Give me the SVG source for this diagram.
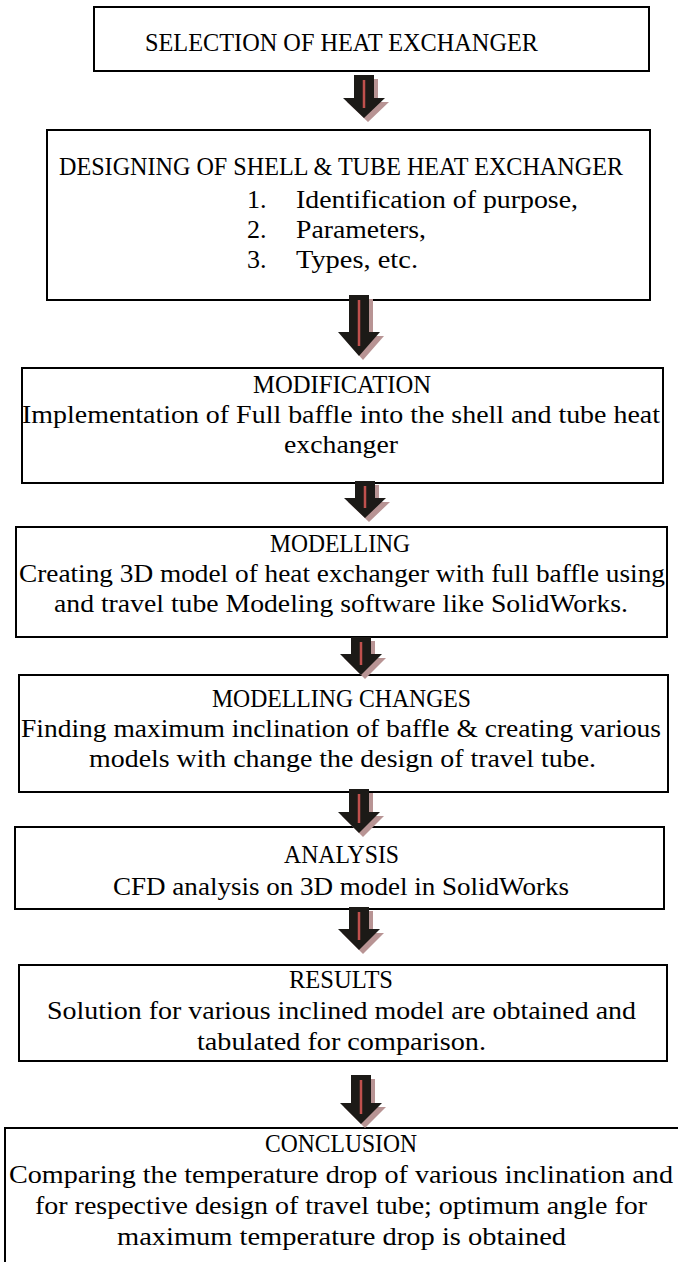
<svg xmlns="http://www.w3.org/2000/svg" width="678" height="1262" viewBox="0 0 678 1262">
<style>
.box{fill:#fff;stroke:#000;stroke-width:2}
.t{font-family:"Liberation Serif","Times New Roman",serif;font-size:26px;fill:#000}
.sh{fill:#b89494}
.ar{fill:#1c1a17}
.rl{stroke:#c0504d;stroke-width:2.5}
</style>
<rect width="678" height="1262" fill="#fff"/>
<g id="n1">
<rect class="box" x="94" y="7" width="555" height="64"/>
<text class="t" x="145" y="51" textLength="393" lengthAdjust="spacingAndGlyphs">SELECTION OF HEAT EXCHANGER</text>
</g>
<g id="n2">
<rect class="box" x="47" y="130" width="603" height="170"/>
<text class="t" x="59" y="175" textLength="564" lengthAdjust="spacingAndGlyphs">DESIGNING OF SHELL &amp; TUBE HEAT EXCHANGER</text>
<text class="t" x="247" y="208">1.</text>
<text class="t" x="296" y="208" textLength="282" lengthAdjust="spacingAndGlyphs">Identification of purpose,</text>
<text class="t" x="247" y="238">2.</text>
<text class="t" x="296" y="238" textLength="130" lengthAdjust="spacingAndGlyphs">Parameters,</text>
<text class="t" x="247" y="268">3.</text>
<text class="t" x="296" y="268" textLength="122" lengthAdjust="spacingAndGlyphs">Types, etc.</text>
</g>
<g id="n3">
<rect class="box" x="22" y="368" width="641" height="115"/>
<text class="t" x="253" y="393" textLength="178" lengthAdjust="spacingAndGlyphs">MODIFICATION</text>
<text class="t" x="22" y="423" textLength="638" lengthAdjust="spacingAndGlyphs">Implementation of Full baffle into the shell and tube heat</text>
<text class="t" x="284" y="453" textLength="114" lengthAdjust="spacingAndGlyphs">exchanger</text>
</g>
<g id="n4">
<rect class="box" x="16" y="527" width="651" height="110"/>
<text class="t" x="270" y="552" textLength="140" lengthAdjust="spacingAndGlyphs">MODELLING</text>
<text class="t" x="19" y="582" textLength="646" lengthAdjust="spacingAndGlyphs">Creating 3D model of heat exchanger with full baffle using</text>
<text class="t" x="54" y="612" textLength="574" lengthAdjust="spacingAndGlyphs">and travel tube Modeling software like SolidWorks.</text>
</g>
<g id="n5">
<rect class="box" x="19" y="675" width="649" height="117"/>
<text class="t" x="212" y="707" textLength="259" lengthAdjust="spacingAndGlyphs">MODELLING CHANGES</text>
<text class="t" x="21" y="737" textLength="640" lengthAdjust="spacingAndGlyphs">Finding maximum inclination of baffle &amp; creating various</text>
<text class="t" x="89" y="767" textLength="507" lengthAdjust="spacingAndGlyphs">models with change the design of travel tube.</text>
</g>
<g id="n6">
<rect class="box" x="15" y="827" width="649" height="82"/>
<text class="t" x="284" y="863" textLength="115" lengthAdjust="spacingAndGlyphs">ANALYSIS</text>
<text class="t" x="113" y="895" textLength="456" lengthAdjust="spacingAndGlyphs">CFD analysis on 3D model in SolidWorks</text>
</g>
<g id="n7">
<rect class="box" x="19" y="965" width="648" height="96"/>
<text class="t" x="289" y="988" textLength="104" lengthAdjust="spacingAndGlyphs">RESULTS</text>
<text class="t" x="47" y="1019" textLength="589" lengthAdjust="spacingAndGlyphs">Solution for various inclined model are obtained and</text>
<text class="t" x="197" y="1050" textLength="289" lengthAdjust="spacingAndGlyphs">tabulated for comparison.</text>
</g>
<g id="n8">
<rect class="box" x="5" y="1128" width="690" height="160"/>
<text class="t" x="265" y="1152" textLength="152" lengthAdjust="spacingAndGlyphs">CONCLUSION</text>
<text class="t" x="9" y="1183" textLength="664" lengthAdjust="spacingAndGlyphs">Comparing the temperature drop of various inclination and</text>
<text class="t" x="35" y="1214" textLength="612" lengthAdjust="spacingAndGlyphs">for respective design of travel tube; optimum angle for</text>
<text class="t" x="117" y="1245" textLength="449" lengthAdjust="spacingAndGlyphs">maximum temperature drop is obtained</text>
</g>
<g id="connectors">
<g id="a1">
<path class="sh" d="M358,79 h20 v23 h11 l-21,20 l-21,-20 h11 z"/>
<path class="ar" d="M354,75 h20 v23 h11 l-21,20 l-21,-20 h11 z"/>
<line class="rl" x1="364" y1="80" x2="364" y2="108"/>
</g>
<g id="a2">
<path class="sh" d="M353,299 h20 v37 h11 l-21,24 l-21,-24 h11 z"/>
<path class="ar" d="M349,295 h20 v37 h11 l-21,24 l-21,-24 h11 z"/>
<line class="rl" x1="359" y1="300" x2="359" y2="346"/>
</g>
<g id="a3">
<path class="sh" d="M359,485 h20 v17 h11 l-21,20 l-21,-20 h11 z"/>
<path class="ar" d="M355,481 h20 v17 h11 l-21,20 l-21,-20 h11 z"/>
<line class="rl" x1="365" y1="486" x2="365" y2="508"/>
</g>
<g id="a4">
<path class="sh" d="M355,641 h20 v17 h11 l-21,21 l-21,-21 h11 z"/>
<path class="ar" d="M351,637 h20 v17 h11 l-21,21 l-21,-21 h11 z"/>
<line class="rl" x1="361" y1="642" x2="361" y2="665"/>
</g>
<g id="a5">
<path class="sh" d="M353,793 h20 v23 h11 l-21,21 l-21,-21 h11 z"/>
<path class="ar" d="M349,789 h20 v23 h11 l-21,21 l-21,-21 h11 z"/>
<line class="rl" x1="359" y1="794" x2="359" y2="823"/>
</g>
<g id="a6">
<path class="sh" d="M353,911 h20 v22 h11 l-21,21 l-21,-21 h11 z"/>
<path class="ar" d="M349,907 h20 v22 h11 l-21,21 l-21,-21 h11 z"/>
<line class="rl" x1="359" y1="912" x2="359" y2="940"/>
</g>
<g id="a7">
<path class="sh" d="M355,1079 h20 v28 h11 l-21,21 l-21,-21 h11 z"/>
<path class="ar" d="M351,1075 h20 v28 h11 l-21,21 l-21,-21 h11 z"/>
<line class="rl" x1="361" y1="1080" x2="361" y2="1114"/>
</g>
</g>
</svg>
